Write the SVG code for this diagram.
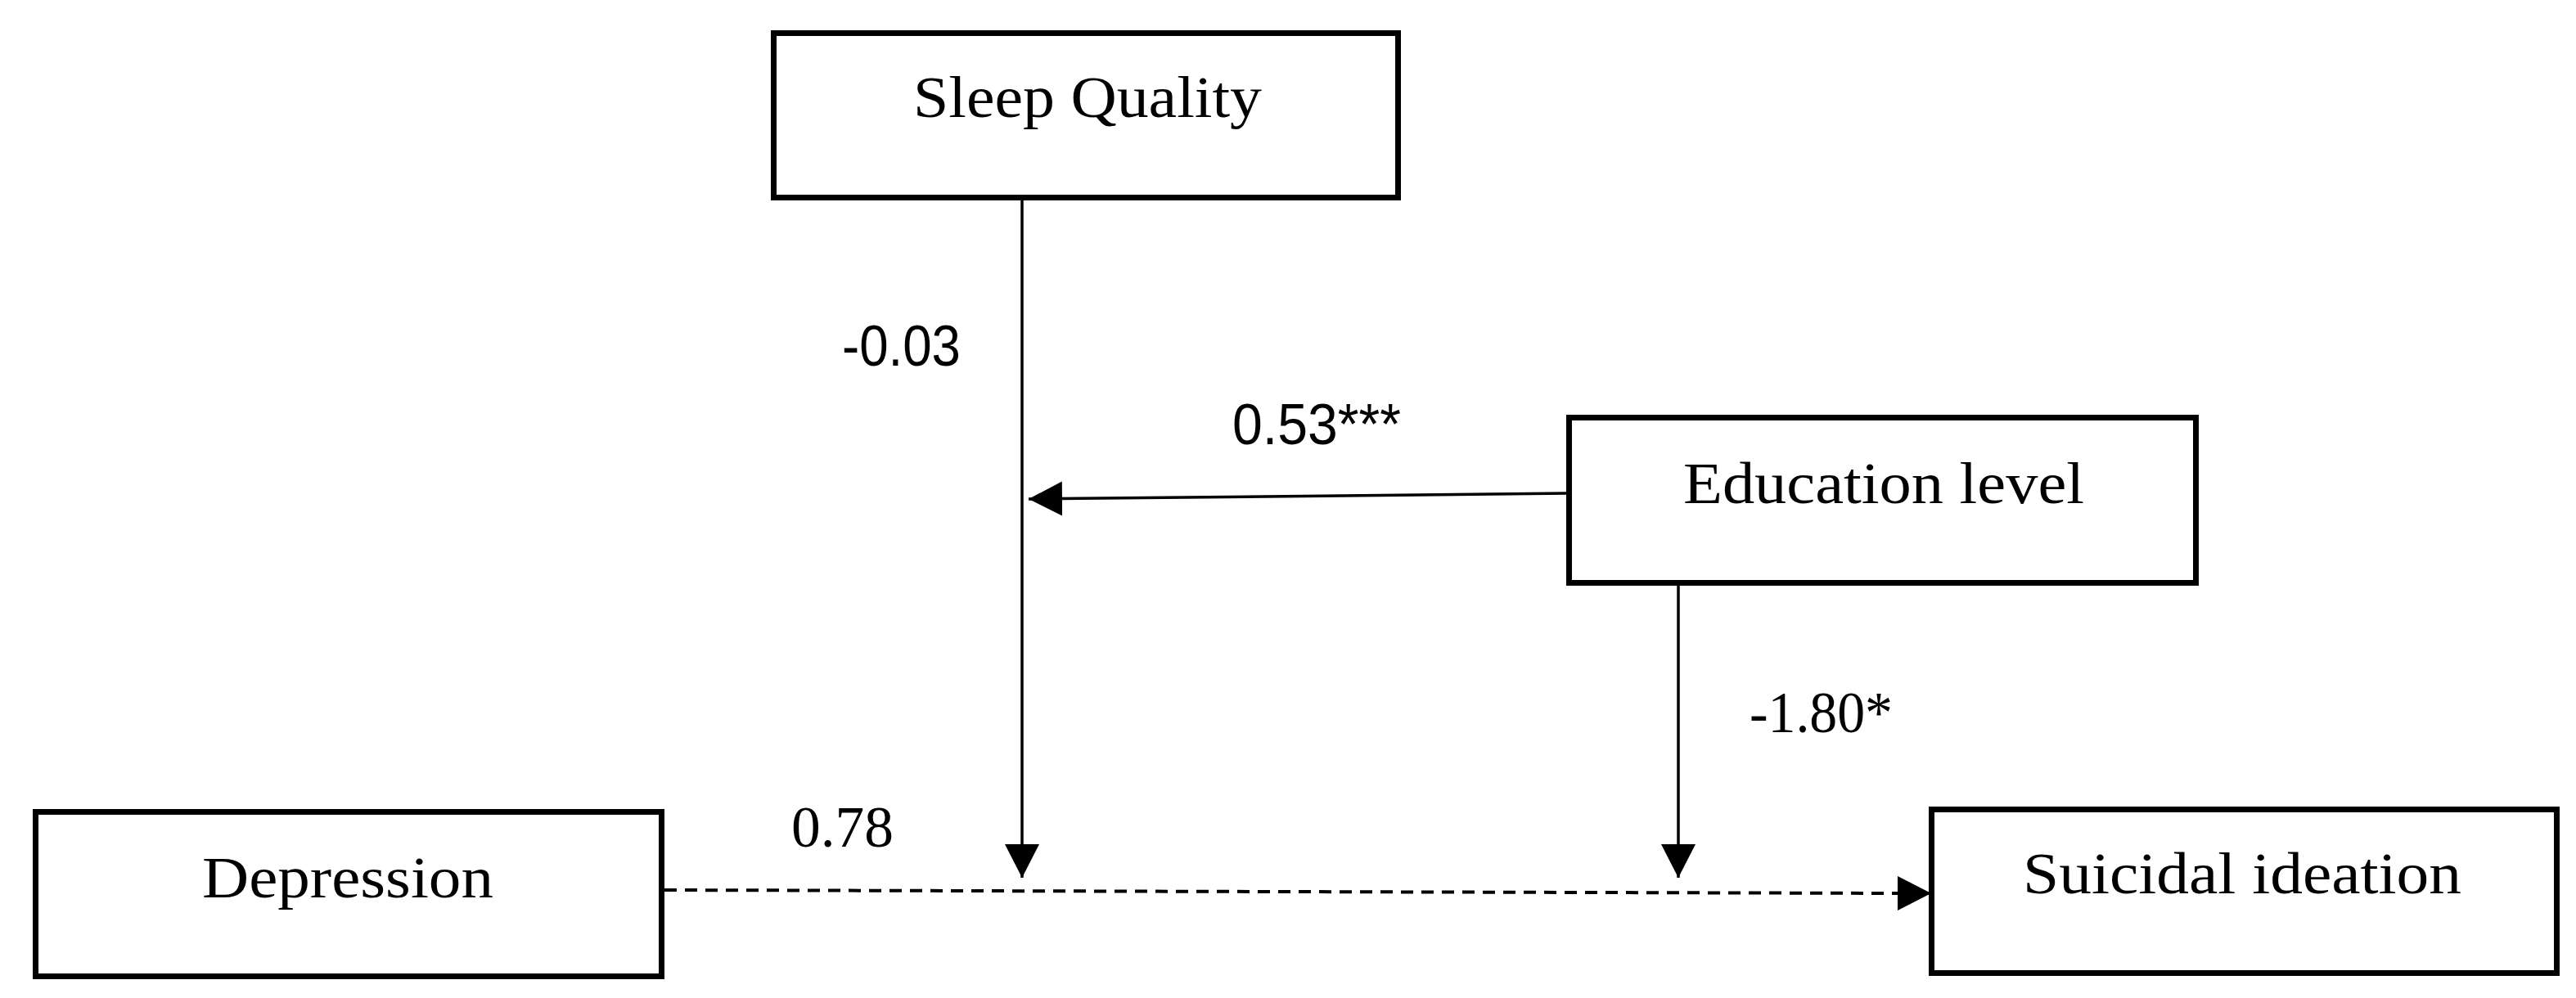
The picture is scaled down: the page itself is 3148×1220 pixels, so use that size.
<svg xmlns="http://www.w3.org/2000/svg" width="3148" height="1220" viewBox="0 0 3148 1220">
<style>
.box{fill:#fff;stroke:#000;stroke-width:7}
.lbl{font-family:"Liberation Serif","Times New Roman",serif;font-size:72px;fill:#000}
.num{font-family:"Liberation Sans",Arial,sans-serif;font-size:70px;fill:#000}
.snum{font-family:"Liberation Serif","Times New Roman",serif;font-size:72px;fill:#000}
.ln{stroke:#000;stroke-width:3.5;fill:none}
.dash{stroke:#000;stroke-width:4;fill:none;stroke-dasharray:15 10}
</style>
<defs>
<marker id="ah" markerUnits="userSpaceOnUse" markerWidth="42" markerHeight="44" refX="41" refY="21" orient="auto" viewBox="0 0 42 44">
<path d="M0,0 L41,21 L0,42 Z" fill="#000"/>
</marker>
</defs>
<rect width="3148" height="1220" fill="#fff"/>
<g id="connectors">
<line class="ln" x1="1249" y1="245" x2="1249" y2="1073" marker-end="url(#ah)"/>
<line class="ln" x1="1914" y1="603" x2="1257" y2="610" marker-end="url(#ah)"/>
<line class="ln" x1="2051" y1="716" x2="2051" y2="1073" marker-end="url(#ah)"/>
<line class="dash" x1="812" y1="1088" x2="2322" y2="1092"/>
<line class="ln" x1="2320" y1="1092" x2="2360" y2="1092" marker-end="url(#ah)"/>
<text class="num" x="1029" y="447" textLength="145" lengthAdjust="spacingAndGlyphs">-0.03</text>
<text class="num" x="1506" y="543" textLength="206" lengthAdjust="spacingAndGlyphs">0.53***</text>
<text class="snum" x="2138" y="895" textLength="175" lengthAdjust="spacingAndGlyphs">-1.80*</text>
<text class="snum" x="967" y="1035" textLength="125" lengthAdjust="spacingAndGlyphs">0.78</text>
</g>
<g id="sleep-quality">
<rect class="box" x="945.5" y="40.5" width="763" height="201"/>
<text class="lbl" x="1116" y="143" textLength="426" lengthAdjust="spacingAndGlyphs">Sleep Quality</text>
</g>
<g id="education-level">
<rect class="box" x="1917.5" y="510.5" width="766" height="202"/>
<text class="lbl" x="2057" y="615" textLength="490" lengthAdjust="spacingAndGlyphs">Education level</text>
</g>
<g id="depression">
<rect class="box" x="43.5" y="992.5" width="765" height="201"/>
<text class="lbl" x="247" y="1097" textLength="356" lengthAdjust="spacingAndGlyphs">Depression</text>
</g>
<g id="suicidal-ideation">
<rect class="box" x="2360.5" y="989.5" width="764" height="200"/>
<text class="lbl" x="2472" y="1092" textLength="536" lengthAdjust="spacingAndGlyphs">Suicidal ideation</text>
</g>
</svg>
